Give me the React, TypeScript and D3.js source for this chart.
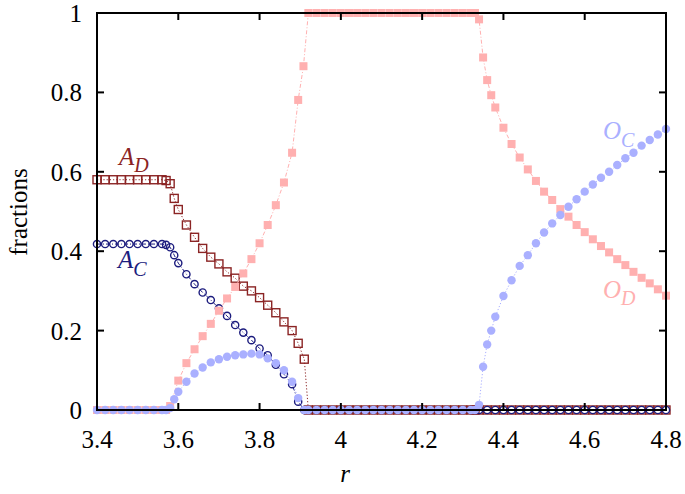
import React from "react";
import * as d3 from "d3";

// ---- data ----
const xTicks = [3.4, 3.6, 3.8, 4.0, 4.2, 4.4, 4.6, 4.8];
const xTickLabels = ["3.4", "3.6", "3.8", "4", "4.2", "4.4", "4.6", "4.8"];
const yTicks = [0, 0.2, 0.4, 0.6, 0.8, 1];
const yTickLabels = ["0", "0.2", "0.4", "0.6", "0.8", "1"];

const zerosMid: [number, number][] = [
  [3.92, 0], [3.94, 0], [3.96, 0], [3.98, 0], [4.0, 0], [4.02, 0], [4.04, 0], [4.06, 0], [4.08, 0], [4.1, 0],
  [4.12, 0], [4.14, 0], [4.16, 0], [4.18, 0], [4.2, 0], [4.22, 0], [4.24, 0], [4.26, 0], [4.28, 0], [4.3, 0],
  [4.32, 0], [4.33, 0],
];
const zerosRight: [number, number][] = [
  [4.34, 0], [4.36, 0], [4.38, 0], [4.4, 0], [4.42, 0], [4.44, 0], [4.46, 0], [4.48, 0], [4.5, 0], [4.52, 0],
  [4.54, 0], [4.56, 0], [4.58, 0], [4.6, 0], [4.62, 0], [4.64, 0], [4.66, 0], [4.68, 0], [4.7, 0], [4.72, 0],
  [4.74, 0], [4.76, 0], [4.78, 0], [4.8, 0],
];
const zerosLeft: [number, number][] = [
  [3.4, 0], [3.42, 0], [3.44, 0], [3.46, 0], [3.48, 0], [3.5, 0], [3.52, 0], [3.54, 0], [3.56, 0], [3.57, 0],
];

const seriesAD: [number, number][] = [
  [3.4, 0.58], [3.42, 0.58], [3.44, 0.58], [3.46, 0.58], [3.48, 0.58], [3.5, 0.58], [3.52, 0.58], [3.54, 0.58],
  [3.56, 0.58], [3.57, 0.578], [3.58, 0.57], [3.59, 0.533], [3.6, 0.505], [3.62, 0.466], [3.64, 0.435],
  [3.66, 0.407], [3.68, 0.385], [3.7, 0.368], [3.72, 0.348], [3.74, 0.332], [3.76, 0.312], [3.78, 0.3],
  [3.8, 0.283], [3.82, 0.264], [3.84, 0.245], [3.86, 0.222], [3.88, 0.2], [3.895, 0.168], [3.91, 0.128],
  ...zerosMid, ...zerosRight,
];

const seriesAC: [number, number][] = [
  [3.4, 0.418], [3.42, 0.418], [3.44, 0.418], [3.46, 0.418], [3.48, 0.418], [3.5, 0.418], [3.52, 0.418],
  [3.54, 0.418], [3.56, 0.418], [3.57, 0.416], [3.58, 0.41], [3.59, 0.39], [3.6, 0.37], [3.62, 0.342],
  [3.64, 0.317], [3.66, 0.296], [3.68, 0.277], [3.7, 0.256], [3.72, 0.237], [3.74, 0.214], [3.76, 0.195],
  [3.78, 0.176], [3.8, 0.155], [3.82, 0.138], [3.84, 0.114], [3.86, 0.09], [3.88, 0.065], [3.895, 0.021],
  [3.91, 0], ...zerosMid, ...zerosRight,
];

const seriesOD: [number, number][] = [
  ...zerosLeft,
  [3.58, 0.01], [3.6, 0.074], [3.62, 0.118], [3.64, 0.153], [3.66, 0.186], [3.68, 0.217], [3.7, 0.25],
  [3.72, 0.281], [3.74, 0.31], [3.76, 0.344], [3.78, 0.38], [3.8, 0.42], [3.82, 0.466], [3.84, 0.516],
  [3.86, 0.573], [3.88, 0.648], [3.895, 0.781], [3.908, 0.866],
  [3.92, 1], [3.94, 1], [3.96, 1], [3.98, 1], [4.0, 1], [4.02, 1], [4.04, 1], [4.06, 1], [4.08, 1], [4.1, 1],
  [4.12, 1], [4.14, 1], [4.16, 1], [4.18, 1], [4.2, 1], [4.22, 1], [4.24, 1], [4.26, 1], [4.28, 1], [4.3, 1],
  [4.32, 1], [4.33, 1],
  [4.34, 0.984], [4.35, 0.888], [4.36, 0.831], [4.37, 0.793], [4.38, 0.762], [4.4, 0.711], [4.42, 0.67],
  [4.44, 0.636], [4.46, 0.606], [4.48, 0.577], [4.5, 0.55], [4.52, 0.529], [4.54, 0.506], [4.56, 0.487],
  [4.58, 0.466], [4.6, 0.448], [4.62, 0.43], [4.64, 0.413], [4.66, 0.397], [4.68, 0.38], [4.7, 0.365],
  [4.72, 0.348], [4.74, 0.333], [4.76, 0.319], [4.78, 0.304], [4.8, 0.288],
];

const seriesOC: [number, number][] = [
  ...zerosLeft,
  [3.58, 0.005], [3.59, 0.027], [3.6, 0.046], [3.62, 0.071], [3.64, 0.092], [3.66, 0.107], [3.68, 0.12],
  [3.7, 0.128], [3.72, 0.134], [3.74, 0.138], [3.76, 0.14], [3.78, 0.142], [3.8, 0.14], [3.82, 0.13],
  [3.84, 0.118], [3.86, 0.1], [3.88, 0.071], [3.895, 0.03], [3.91, 0],
  ...zerosMid,
  [4.34, 0.013], [4.35, 0.109], [4.36, 0.165], [4.37, 0.2], [4.38, 0.235], [4.4, 0.287], [4.42, 0.327],
  [4.44, 0.363], [4.46, 0.39], [4.48, 0.42], [4.5, 0.447], [4.52, 0.47], [4.54, 0.491], [4.56, 0.512],
  [4.58, 0.531], [4.6, 0.55], [4.62, 0.568], [4.64, 0.585], [4.66, 0.6], [4.68, 0.617], [4.7, 0.634],
  [4.72, 0.648], [4.74, 0.666], [4.76, 0.68], [4.78, 0.694], [4.8, 0.708],
];

// ---- styles ----
const W = 685;
const H = 494;
const M = { left: 97, right: 666, top: 13, bottom: 410 };
const colAD = "#8b2424";
const colAC = "#1c1c7e";
const colOD = "#ffb0b0";
const colOC = "#aab0ff";
const txt = { fontFamily: "Liberation Serif" } as React.CSSProperties;
const FS = 25;
const SUB = 20;

export default function App() {
  const x = d3.scaleLinear().domain([3.4, 4.8]).range([M.left, M.right]);
  const y = d3.scaleLinear().domain([0, 1]).range([M.bottom, M.top]);
  const line = d3
    .line<[number, number]>()
    .x((d) => x(d[0]))
    .y((d) => y(d[1]));

  const tickLen = 7;

  return (
    <svg width={W} height={H} style={{ position: "fixed", left: 0, top: 0, background: "#fff" }}>
      <rect x={0} y={0} width={W} height={H} fill="#fff" />

      {/* A_D */}
      <path d={line(seriesAD) || ""} fill="none" stroke={colAD} strokeWidth={1} strokeDasharray="1.2,2" />
      {seriesAD.map((d, i) => (
        <rect
          key={"ad" + i}
          x={x(d[0]) - 4}
          y={y(d[1]) - 4}
          width={8}
          height={8}
          fill="none"
          stroke={colAD}
          strokeWidth={1.4}
        />
      ))}

      {/* A_C */}
      <path d={line(seriesAC) || ""} fill="none" stroke={colAC} strokeWidth={1} strokeDasharray="4,2,1,2" />
      {seriesAC.map((d, i) => (
        <circle key={"ac" + i} cx={x(d[0])} cy={y(d[1])} r={3.6} fill="none" stroke={colAC} strokeWidth={1.4} />
      ))}

      {/* O_D */}
      <path d={line(seriesOD) || ""} fill="none" stroke={colOD} strokeWidth={1} strokeDasharray="4,2,1,2" />
      {seriesOD.map((d, i) => (
        <rect key={"od" + i} x={x(d[0]) - 4} y={y(d[1]) - 4} width={8} height={8} fill={colOD} />
      ))}

      {/* O_C */}
      <path d={line(seriesOC) || ""} fill="none" stroke={colOC} strokeWidth={1} strokeDasharray="1.2,2" />
      {seriesOC.map((d, i) => (
        <circle key={"oc" + i} cx={x(d[0])} cy={y(d[1])} r={4.2} fill={colOC} />
      ))}

      {/* frame */}
      <rect
        x={M.left}
        y={M.top}
        width={M.right - M.left}
        height={M.bottom - M.top}
        fill="none"
        stroke="#000"
        strokeWidth={2}
      />

      {/* x ticks */}
      {xTicks.map((t, i) => (
        <g key={"xt" + i}>
          <line x1={x(t)} x2={x(t)} y1={M.bottom} y2={M.bottom - tickLen} stroke="#000" strokeWidth={2} />
          <line x1={x(t)} x2={x(t)} y1={M.top} y2={M.top + tickLen} stroke="#000" strokeWidth={2} />
          <text style={txt} x={x(t)} y={M.bottom + 38} textAnchor="middle" fontSize={FS} fill="#000">
            {xTickLabels[i]}
          </text>
        </g>
      ))}

      {/* y ticks */}
      {yTicks.map((t, i) => (
        <g key={"yt" + i}>
          <line x1={M.left} x2={M.left + tickLen} y1={y(t)} y2={y(t)} stroke="#000" strokeWidth={2} />
          <line x1={M.right} x2={M.right - tickLen} y1={y(t)} y2={y(t)} stroke="#000" strokeWidth={2} />
          <text style={txt} x={M.left - 15} y={y(t) + 9} textAnchor="end" fontSize={FS} fill="#000">
            {yTickLabels[i]}
          </text>
        </g>
      ))}

      {/* axis titles */}
      <text style={txt} x={345} y={482} textAnchor="middle" fontSize={FS} fontStyle="italic" fill="#000">
        r
      </text>
      <text style={txt} transform="translate(27,212) rotate(-90)" textAnchor="middle" fontSize={FS} fill="#000">
        fractions
      </text>

      {/* curve labels */}
      <text style={txt} x={119} y={165} fontSize={FS} fontStyle="italic" fill={colAD}>
        A
        <tspan dy={7} fontSize={SUB}>D</tspan>
      </text>
      <text style={txt} x={118} y={268} fontSize={FS} fontStyle="italic" fill={colAC}>
        A
        <tspan dy={8} fontSize={SUB}>C</tspan>
      </text>
      <text style={txt} x={603} y={139} fontSize={FS} fontStyle="italic" fill={colOC}>
        O
        <tspan dy={8} fontSize={SUB}>C</tspan>
      </text>
      <text style={txt} x={603} y={298} fontSize={FS} fontStyle="italic" fill={colOD}>
        O
        <tspan dy={7} fontSize={SUB}>D</tspan>
      </text>
    </svg>
  );
}
